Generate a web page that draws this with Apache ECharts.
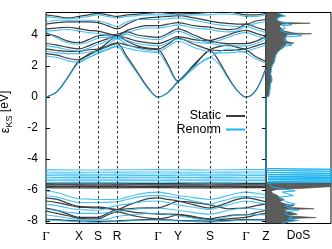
<!DOCTYPE html>
<html><head><meta charset="utf-8">
<script src="https://cdn.jsdelivr.net/npm/echarts@6/dist/echarts.min.js"></script>
<style>html,body{margin:0;padding:0;background:#fff}#c{width:332px;height:249px}</style>
</head><body><div id="c"></div>
<script>
// k-path sample positions and high-symmetry points
const kPos = [0,11,22,33,42.5,52,61.5,71,81,91.5,102,112,122,132,148,164,173,182,191,200,210,220];
const kSym = [0,33,52,71,112,132,164,200,220];
const kLabels = ['Γ','X','S','R','Γ','Y','S','Γ','Z'];
const yTicks = [-8,-6,-4,-2,0,2,4];

// Static conduction bands (on kPos)
const staticCond = [
 [0,0.35,1.3,2.35,2.7,3.0,3.25,3.45,2.6,1.6,0.6,0,0.3,1.0,2.0,3.0,2.3,1.3,0.45,0,0.45,1.9],
 [2.8,2.7,2.5,2.4,2.75,3.05,3.3,3.5,3.35,3.2,3.1,3.05,2.1,1.05,2.1,3.05,3.25,3.35,3.2,3.05,2.6,2.3],
 [3.1,3.0,2.95,2.95,3.05,3.1,3.5,3.95,3.6,3.3,3.15,3.1,3.4,3.8,3.4,3.05,3.0,3.0,3.05,3.1,3.3,3.5],
 [3.45,3.35,3.2,3.1,3.3,3.55,3.75,3.95,3.8,3.6,3.5,3.45,3.65,3.9,3.7,3.6,3.5,3.45,3.45,3.45,3.6,3.9],
 [4.1,3.9,3.6,3.5,3.7,3.95,4.0,4.05,4.2,4.0,3.9,3.85,4.1,4.4,4.0,3.65,3.8,4.0,4.2,4.3,4.1,3.9],
 [4.4,4.45,4.5,4.4,4.3,4.25,4.1,3.95,4.3,4.5,4.6,4.6,4.7,4.8,4.6,4.5,4.4,4.35,4.4,4.7,4.5,4.3],
 [4.7,4.8,4.85,4.85,4.85,4.8,4.6,4.4,4.7,5.0,5.1,5.15,5.2,5.25,5.1,4.9,4.8,4.75,4.7,4.7,4.9,5.0],
 [5.3,5.2,5.1,5.2,5.3,5.4,5.3,5.2,5.3,5.35,5.4,5.45,5.4,5.35,5.4,5.45,5.5,5.5,5.4,5.3,5.3,5.4]
];
// Renormalized conduction bands (on kPos)
const renormCond = [
 [0,0.33,1.25,2.22,2.55,2.8,3.05,3.25,2.45,1.5,0.55,0,0.28,0.95,1.85,2.55,2.1,1.2,0.42,0,0.42,1.8],
 [2.65,2.55,2.35,2.25,2.55,2.85,3.1,3.3,3.15,3.0,2.9,2.85,1.95,1.0,1.95,2.55,2.9,3.1,3.0,2.85,2.45,2.2],
 [2.95,2.85,2.8,2.8,2.9,2.95,3.3,3.75,3.4,3.15,3.0,2.95,3.25,3.6,3.2,2.9,2.85,2.85,2.9,2.95,3.15,3.35],
 [3.3,3.2,3.05,2.95,3.15,3.4,3.6,3.8,3.65,3.45,3.35,3.3,3.5,3.75,3.55,3.45,3.35,3.3,3.3,3.3,3.45,3.75],
 [4.2,3.8,3.5,3.4,3.55,3.8,3.85,3.9,4.05,3.85,3.75,3.7,3.95,4.25,3.85,3.5,3.65,3.85,4.05,4.15,3.95,3.75],
 [4.25,4.3,4.35,4.25,4.15,4.1,3.95,3.8,4.15,4.35,4.45,4.45,4.55,4.65,4.45,4.35,4.25,4.2,4.25,4.55,4.35,4.15],
 [4.85,4.95,4.95,4.95,4.95,4.9,4.75,4.55,4.85,5.0,5.0,5.0,5.05,5.1,4.95,4.75,4.65,4.6,4.55,4.55,4.75,4.85],
 [5.2,5.1,5.05,5.1,5.2,5.3,5.2,5.1,5.2,5.25,5.3,5.3,5.3,5.25,5.3,5.3,5.35,5.35,5.3,5.2,5.2,5.3]
];
// Static valence dispersive bands (on kPos)
const staticVal = [
 [-6.5,-6.6,-6.85,-7.05,-7.08,-7.1,-7.15,-7.25,-7.0,-6.75,-6.55,-6.5,-6.6,-6.7,-6.95,-7.15,-7.0,-6.8,-6.6,-6.5,-6.6,-6.75],
 [-6.7,-6.8,-6.95,-7.1,-7.12,-7.15,-7.2,-7.25,-7.2,-7.15,-7.14,-7.14,-6.95,-6.72,-6.8,-6.95,-7.1,-7.2,-7.18,-7.14,-7.0,-6.9],
 [-7.15,-7.3,-7.55,-7.75,-7.75,-7.75,-7.5,-7.25,-7.35,-7.45,-7.5,-7.55,-7.55,-7.56,-7.7,-7.85,-7.75,-7.65,-7.6,-7.6,-7.45,-7.3],
 [-7.35,-7.5,-7.65,-7.8,-7.85,-7.85,-7.6,-7.4,-7.55,-7.7,-7.8,-7.85,-7.75,-7.6,-7.75,-7.9,-7.9,-7.85,-7.8,-7.75,-7.6,-7.5],
 [-7.88,-7.9,-7.95,-7.98,-8.0,-8.02,-8.0,-7.98,-7.95,-7.92,-7.9,-7.9,-7.92,-7.95,-7.98,-8.0,-7.98,-7.95,-7.92,-7.9,-7.9,-7.92]
];
// Renormalized valence dispersive bands (on kPos)
const renormVal = [
 [-6.07,-6.15,-6.38,-6.55,-6.58,-6.6,-6.6,-6.6,-6.45,-6.28,-6.16,-6.13,-6.22,-6.35,-6.48,-6.6,-6.5,-6.35,-6.2,-6.13,-6.2,-6.3],
 [-6.35,-6.45,-6.65,-6.8,-6.8,-6.8,-6.78,-6.75,-6.6,-6.45,-6.37,-6.34,-6.42,-6.5,-6.7,-6.9,-6.75,-6.6,-6.45,-6.4,-6.45,-6.5],
 [-6.92,-7.0,-7.15,-7.25,-7.28,-7.3,-7.15,-7.0,-6.9,-6.8,-6.72,-6.7,-6.8,-6.95,-7.1,-7.25,-7.1,-6.95,-6.8,-6.7,-6.8,-6.9],
 [-7.25,-7.32,-7.42,-7.5,-7.5,-7.5,-7.45,-7.4,-7.3,-7.22,-7.17,-7.15,-7.22,-7.3,-7.45,-7.55,-7.45,-7.3,-7.2,-7.15,-7.22,-7.3],
 [-7.6,-7.68,-7.8,-7.9,-7.93,-7.95,-7.85,-7.7,-7.62,-7.55,-7.51,-7.5,-7.57,-7.65,-7.82,-7.95,-7.85,-7.7,-7.6,-7.55,-7.58,-7.6],
 [-7.92,-7.95,-8.0,-8.05,-8.06,-8.07,-8.05,-8.02,-7.98,-7.95,-7.93,-7.92,-7.95,-7.98,-8.03,-8.08,-8.04,-8.0,-7.96,-7.94,-7.93,-7.94]
];
// Flat bands (on kSym)
const staticFlat = [
 [-5.58,-5.6,-5.6,-5.59,-5.58,-5.58,-5.6,-5.58,-5.58],
 [-5.66,-5.67,-5.68,-5.67,-5.66,-5.66,-5.68,-5.66,-5.66],
 [-5.75,-5.76,-5.77,-5.76,-5.75,-5.75,-5.77,-5.75,-5.75],
 [-5.84,-5.86,-5.86,-5.85,-5.84,-5.85,-5.86,-5.84,-5.84]
];
const renormFlat = [
 [-4.68,-4.7,-4.7,-4.69,-4.68,-4.69,-4.7,-4.68,-4.68],
 [-4.83,-4.85,-4.85,-4.84,-4.83,-4.84,-4.85,-4.83,-4.83],
 [-4.96,-4.97,-4.98,-4.97,-4.96,-4.96,-4.98,-4.96,-4.96],
 [-5.06,-5.08,-5.08,-5.07,-5.06,-5.07,-5.08,-5.06,-5.06],
 [-5.17,-5.19,-5.19,-5.18,-5.17,-5.18,-5.19,-5.17,-5.17],
 [-5.28,-5.3,-5.3,-5.29,-5.28,-5.29,-5.3,-5.28,-5.28],
 [-5.38,-5.4,-5.4,-5.39,-5.38,-5.39,-5.4,-5.38,-5.38],
 [-5.49,-5.51,-5.51,-5.5,-5.49,-5.5,-5.51,-5.49,-5.49]
];
// Density of states: energies and values
const dosStaticE = [5.45,5.36,5.25,5.1,4.9,4.8,4.76,4.7,4.55,4.4,4.25,4.12,4.08,4.02,3.8,3.65,3.55,3.48,3.4,3.22,3.1,3.0,2.8,2.5,2.26,2.1,1.8,1.5,1.25,1.0,0.8,0.5,0.2,0.05,0,
 -5.5,-5.54,-5.62,-5.72,-5.8,-5.9,-5.97,-6.05,-6.2,-6.35,-6.5,-6.6,-6.75,-6.9,-7.0,-7.1,-7.2,-7.27,-7.4,-7.55,-7.65,-7.77,-7.85,-7.95,-8.05,-8.15];
const dosStaticV = [0.2,0.19,0.26,0.18,0.17,0.3,0.68,0.25,0.2,0.25,0.28,0.45,0.7,0.32,0.3,0.3,0.35,0.43,0.3,0.28,0.24,0.2,0.16,0.14,0.13,0.1,0.08,0.07,0.09,0.09,0.06,0.06,0.05,0.04,0,
 0,1.3,1.3,1.3,0.9,0.5,0.15,0.08,0.1,0.18,0.22,0.28,0.2,0.3,0.43,0.3,0.74,0.25,0.35,0.48,0.3,0.77,0.3,0.45,0.35,0.3];
const dosRenormE = [5.45,5.3,5.22,5.15,5.0,4.85,4.65,4.6,4.45,4.3,4.15,3.95,3.88,3.7,3.5,3.35,3.25,3.05,2.9,2.7,2.45,2.2,2.0,1.7,1.4,1.1,0.9,0.5,0.2,0.02,-0.02,
 -4.6,-4.66,-4.72,-4.8,-4.87,-4.94,-5.0,-5.05,-5.11,-5.16,-5.22,-5.27,-5.32,-5.37,-5.43,-5.48,-5.53,
 -5.6,-5.8,-5.95,-6.05,-6.12,-6.25,-6.35,-6.45,-6.6,-6.75,-6.9,-7.0,-7.15,-7.3,-7.4,-7.55,-7.7,-7.85,-7.95,-8.05,-8.15];
const dosRenormV = [0.18,0.25,0.3,0.2,0.16,0.22,0.4,0.25,0.3,0.22,0.3,0.55,0.3,0.28,0.3,0.4,0.25,0.22,0.18,0.15,0.13,0.12,0.09,0.08,0.07,0.09,0.07,0.06,0.05,0.04,0,
 0,1.3,0,1.3,0,1.3,0.03,1.3,0.03,1.3,0.03,1.3,0.03,1.3,0.03,1.3,0.03,
 0.05,0.1,0.3,0.45,0.25,0.35,0.42,0.2,0.25,0.3,0.45,0.3,0.35,0.5,0.3,0.3,0.4,0.35,0.5,0.3,0.25];

const STATIC_C = '#3d3d3d', RENORM_C = '#1cb2ee';
const YMIN = -8.15, YMAX = 5.45;

const series = [];
function band(vals, ks, name, color, w, extra) {
  return Object.assign({
    type: 'line', name, xAxisIndex: 0, yAxisIndex: 0,
    data: ks.map((k, i) => [k, vals[i]]),
    showSymbol: false, symbol: 'none', smooth: 0.35, clip: true,
    lineStyle: { color, width: w }, itemStyle: { color },
    silent: true
  }, extra || {});
}
const rStyle = { lineStyle: { color: RENORM_C, width: 1.1, opacity: 0.8 } };
// dashed symmetry lines carried by first series
series.push(band(staticCond[0], kPos, 'Static', STATIC_C, 1.2, {
  markLine: {
    silent: true, symbol: 'none', label: { show: false },
    lineStyle: { type: [2.5, 2.5], color: '#000', width: 0.8 },
    data: kSym.slice(1, -1).map(k => ({ xAxis: k }))
  }
}));
staticCond.slice(1).forEach(b => series.push(band(b, kPos, 'Static', STATIC_C, 1.2)));
staticVal.forEach(b => series.push(band(b, kPos, 'Static', STATIC_C, 1.2)));
staticFlat.forEach(b => series.push(band(b, kSym, 'Static', STATIC_C, 1.3)));
renormCond.forEach(b => series.push(band(b, kPos, 'Renorm', RENORM_C, 1.1, rStyle)));
renormVal.forEach(b => series.push(band(b, kPos, 'Renorm', RENORM_C, 1.1, rStyle)));
renormFlat.forEach(b => series.push(band(b, kSym, 'Renorm', RENORM_C, 1.1, rStyle)));

// DoS static filled
const dosPts = [[0, dosStaticE[0]]].concat(dosStaticE.map((e, i) => [dosStaticV[i], e]), [[0, dosStaticE[dosStaticE.length - 1]]]);
series.push({
  type: 'custom', name: 'DoS static', xAxisIndex: 1, yAxisIndex: 2, clip: true, silent: true,
  data: [[0, 0]], encode: { x: 0, y: 1 },
  renderItem: (params, api) => ({
    type: 'polygon',
    shape: { points: dosPts.map(p => api.coord(p)) },
    style: { fill: '#5c5c5c', stroke: '#444', lineWidth: 0.6 }
  })
});
series.push({
  type: 'line', name: 'DoS renorm', xAxisIndex: 1, yAxisIndex: 2, clip: true, silent: true,
  data: dosRenormE.map((e, i) => [dosRenormV[i], e]),
  showSymbol: false, symbol: 'none',
  lineStyle: { color: RENORM_C, width: 1 }
});

const FONT = 'Liberation Sans';
const option = {
  animation: false,
  textStyle: { fontFamily: FONT },
  grid: [
    { left: 46, top: 12.5, width: 220, height: 211, show: true, borderColor: '#000', borderWidth: 1, outerBoundsMode: 'none', containLabel: false },
    { left: 266, top: 12.5, width: 65, height: 211, show: true, borderColor: '#000', borderWidth: 1, outerBoundsMode: 'none', containLabel: false }
  ],
  xAxis: [
    { type: 'value', gridIndex: 0, min: 0, max: 220,
      axisLine: { show: false }, axisTick: { show: false }, splitLine: { show: false },
      axisLabel: { customValues: kSym, margin: 7, fontSize: 12, color: '#000', fontFamily: FONT,
        formatter: v => { const l = kLabels[kSym.indexOf(v)]; return l === 'Γ' ? '{g|Γ}' : l; },
        rich: { g: { fontFamily: 'Liberation Serif', fontSize: 13, color: '#000' } } } },
    { type: 'value', gridIndex: 1, min: 0, max: 1,
      axisLine: { show: false }, axisTick: { show: false }, splitLine: { show: false }, axisLabel: { show: false },
      name: 'DoS', nameLocation: 'middle', nameGap: 6, nameTextStyle: { fontSize: 12, color: '#000', fontFamily: FONT, verticalAlign: 'top' } }
  ],
  yAxis: [
    { type: 'value', gridIndex: 0, min: YMIN, max: YMAX,
      axisLine: { show: false }, splitLine: { show: false },
      axisTick: { show: true, inside: true, length: 4, customValues: yTicks, lineStyle: { color: '#000' } },
      axisLabel: { customValues: yTicks, margin: 8, fontSize: 12, color: '#000', fontFamily: FONT, formatter: v => String(v) },
      name: '{e|ε}{s|KS} [eV]', nameLocation: 'middle', nameGap: 32, nameRotate: 90,
      nameTextStyle: { fontSize: 12, color: '#000', fontFamily: FONT, padding: [0, 0, 0, 12],
        rich: { e: { fontSize: 13, color: '#000' }, s: { fontSize: 9, color: '#000', verticalAlign: 'bottom', lineHeight: 18 } } } },
    { type: 'value', gridIndex: 0, position: 'right', min: YMIN, max: YMAX,
      axisLine: { show: false }, splitLine: { show: false },
      axisTick: { show: true, inside: true, length: 4, customValues: yTicks, lineStyle: { color: '#000' } },
      axisLabel: { show: false } },
    { type: 'value', gridIndex: 1, min: YMIN, max: YMAX,
      axisLine: { show: false }, splitLine: { show: false }, axisTick: { show: false }, axisLabel: { show: false } }
  ],
  legend: [
    { data: ['Static'], right: 82, top: 104.5, align: 'right', icon: 'rect', itemWidth: 19, itemHeight: 2,
      textStyle: { fontSize: 12.5, color: '#000', fontFamily: FONT }, selectedMode: false },
    { data: ['Renorm'], right: 82, top: 118, align: 'right', icon: 'rect', itemWidth: 19, itemHeight: 2,
      textStyle: { fontSize: 12.5, color: '#000', fontFamily: FONT }, selectedMode: false }
  ],
  series
};
const chart = echarts.init(document.getElementById('c'), null, { renderer: 'canvas' });
chart.setOption(option);
</script>
</body></html>
